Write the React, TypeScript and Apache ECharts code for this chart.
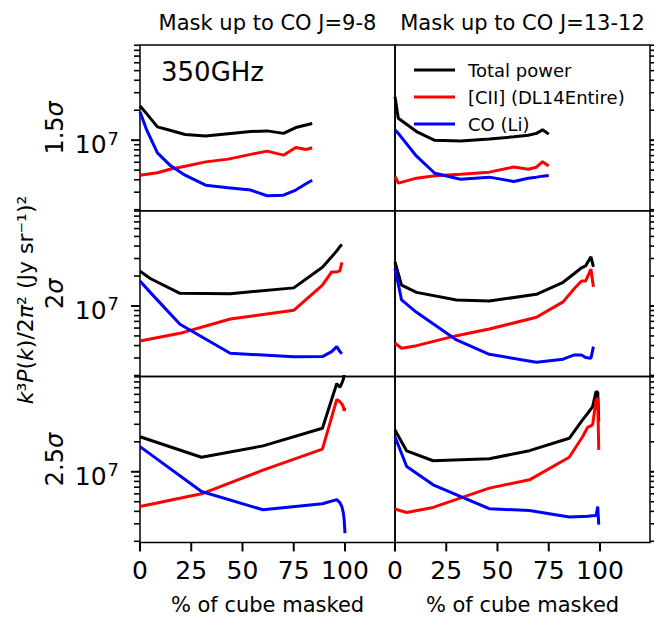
import React, { useEffect, useRef } from "react";
import * as echarts from "echarts";

const FONT = "'DejaVu Sans', 'Liberation Sans', sans-serif";

// ---------- data (x = % of cube masked, y = k^3 P(k) / 2pi^2 in (Jy/sr)^2) ----------
// Row 1.5 sigma, mask up to CO J=9-8
const x_15_98 = [0, 3.3, 8.5, 14.6, 22, 32, 43, 54, 62, 70, 76, 81, 84];
const tot_15_98 = [2.21e7, 1.84e7, 1.36e7, 1.26e7, 1.14e7, 1.10e7, 1.16e7, 1.22e7, 1.24e7, 1.17e7, 1.34e7, 1.42e7, 1.47e7];
const cii_15_98 = [4.45e6, 4.55e6, 4.7e6, 5.1e6, 5.48e6, 6.05e6, 6.45e6, 7.2e6, 7.76e6, 7.07e6, 8.45e6, 8.07e6, 8.38e6];
const co_15_98 = [1.93e7, 1.26e7, 7.46e6, 5.61e6, 4.45e6, 3.53e6, 3.32e6, 3.15e6, 2.76e6, 2.8e6, 3.15e6, 3.64e6, 3.96e6];

// Row 1.5 sigma, mask up to CO J=13-12
const x_15_1312 = [0, 1.6, 10.5, 19.4, 32, 46, 58, 65, 69, 72, 75];
const tot_15_1312 = [2.73e7, 1.66e7, 1.22e7, 9.96e6, 9.82e6, 1.03e7, 1.08e7, 1.12e7, 1.17e7, 1.27e7, 1.15e7];
const cii_15_1312 = [4.31e6, 3.7e6, 4.15e6, 4.38e6, 4.55e6, 4.77e6, 5.38e6, 5.1e6, 5.35e6, 6.08e6, 5.51e6];
const co_15_1312 = [1.27e7, 1.17e7, 6.9e6, 4.65e6, 4.05e6, 4.25e6, 3.84e6, 4.15e6, 4.25e6, 4.35e6, 4.41e6];

// Row 2 sigma, mask up to CO J=9-8
const x_20_98 = [0, 5, 19.5, 44, 75, 89, 93.5, 96, 97.5, 98.5];
const tot_20_98 = [2.24e7, 1.89e7, 1.34e7, 1.33e7, 1.52e7, 2.45e7, 3.12e7, 3.58e7, 3.95e7, 4.15e7];
const cii_20_98 = [4.45e6, 4.66e6, 5.31e6, 7.4e6, 9.04e6, 1.62e7, 2.2e7, 2.2e7, 2.25e7, 2.74e7];
const co_20_98 = [1.78e7, 1.37e7, 6.55e6, 3.35e6, 3.08e6, 3.1e6, 3.48e6, 3.9e6, 3.48e6, 3.3e6];

// Row 2 sigma, mask up to CO J=13-12
const x_20_1312 = [0, 3.2, 10.5, 30, 46, 69, 82, 87.5, 91, 93, 95.6, 96.8];
const tot_20_1312 = [2.77e7, 1.62e7, 1.37e7, 1.15e7, 1.12e7, 1.31e7, 1.73e7, 2.12e7, 2.42e7, 2.53e7, 3.12e7, 2.47e7];
const cii_20_1312 = [4.22e6, 3.76e6, 3.99e6, 5.03e6, 5.86e6, 7.69e6, 1.1e7, 1.5e7, 1.78e7, 1.78e7, 2.34e7, 1.56e7];
const co_20_1312 = [2.38e7, 1.15e7, 8.63e6, 4.55e6, 3.27e6, 2.72e6, 2.92e6, 3.22e6, 3.22e6, 3.03e6, 2.98e6, 3.9e6];

// Row 2.5 sigma, mask up to CO J=9-8
const x_25_98 = [0, 30, 60, 89, 96, 97.5, 98.5, 99.2, 99.6, 100];
const tot_25_98 = [2.25e7, 1.4e7, 1.82e7, 2.74e7, 7.7e7, 7.06e7, 7.8e7, 8.5e7, 9.5e7, 1.0e8];
const cii_25_98 = [4.48e6, 6.0e6, 1.04e7, 1.69e7, 5.35e7, 5.06e7, 4.8e7, 4.5e7, 4.1e7, 4.4e7];
const co_25_98 = [1.79e7, 6.33e6, 4.15e6, 4.77e6, 5.25e6, 4.9e6, 4.45e6, 3.85e6, 3.3e6, 2.42e6];

// Row 2.5 sigma, mask up to CO J=13-12
const x_25_1312 = [0, 5.7, 18.6, 46, 65.6, 85, 91.5, 94, 96.4, 98.1, 98.9, 99.4];
const tot_25_1312 = [2.63e7, 1.62e7, 1.29e7, 1.35e7, 1.63e7, 2.17e7, 3.32e7, 3.87e7, 4.51e7, 6.38e7, 6.3e7, 3.2e7];
const cii_25_1312 = [4.22e6, 3.9e6, 4.38e6, 6.85e6, 8.3e6, 1.4e7, 2.25e7, 2.8e7, 2.96e7, 5.26e7, 5.47e7, 1.66e7];
const co_25_1312 = [2.25e7, 1.13e7, 7.39e6, 4.25e6, 4.08e6, 3.51e6, 3.56e6, 3.58e6, 3.61e6, 3.63e6, 4.48e6, 2.94e6];

// ---------- axes / labels ----------
const X_MIN = 0;
const X_MAX = 124.4;
const X_TICKS = [0, 25, 50, 75, 100];
const Y_MIN = 1.95e6;
const Y_MAX = 9.05e7;
const Y_MAJOR = [1e7];
const Y_MINOR = [2e6, 3e6, 4e6, 5e6, 6e6, 7e6, 8e6, 9e6, 2e7, 3e7, 4e7, 5e7, 6e7, 7e7, 8e7, 9e7];
const ROW_LABELS = ["1.5{i|σ}", "2{i|σ}", "2.5{i|σ}"];
const COL_TITLES = ["Mask up to CO J=9-8", "Mask up to CO J=13-12"];
const X_LABEL = "% of cube masked";
const Y_LABEL = "{i|k}³{i|P}({i|k})/2{i|π}² (Jy sr⁻¹)²";
const BAND_LABEL = "350GHz";
const SERIES_NAMES = ["Total power", "[CII] (DL14Entire)", "CO (Li)"];
const COLORS = ["#000000", "#ff0000", "#0000ff"];

const PANELS = [
  { row: 0, col: 0, x: x_15_98, ys: [tot_15_98, cii_15_98, co_15_98] },
  { row: 0, col: 1, x: x_15_1312, ys: [tot_15_1312, cii_15_1312, co_15_1312] },
  { row: 1, col: 0, x: x_20_98, ys: [tot_20_98, cii_20_98, co_20_98] },
  { row: 1, col: 1, x: x_20_1312, ys: [tot_20_1312, cii_20_1312, co_20_1312] },
  { row: 2, col: 0, x: x_25_98, ys: [tot_25_98, cii_25_98, co_25_98] },
  { row: 2, col: 1, x: x_25_1312, ys: [tot_25_1312, cii_25_1312, co_25_1312] },
];

// layout
const GRID_LEFT = [140, 395];
const GRID_W = 255;
const GRID_TOP = [45, 210.8, 376.6];
const GRID_H = 165.8;
const MAJOR_LEN = 9;
const MINOR_LEN = 6;

const lg = Math.log10;

function textGraphics() {
  const graphic: any[] = [];
  COL_TITLES.forEach((t, c) => {
    graphic.push({
      type: "text",
      x: GRID_LEFT[c] + GRID_W / 2,
      y: 23,
      style: { text: t, font: `21px ${FONT}`, fill: "#000", align: "center", verticalAlign: "middle" },
    });
    graphic.push({
      type: "text",
      x: GRID_LEFT[c] + GRID_W / 2,
      y: 605,
      style: { text: X_LABEL, font: `21px ${FONT}`, fill: "#000", align: "center", verticalAlign: "middle" },
    });
  });
  ROW_LABELS.forEach((t, r) => {
    graphic.push({
      type: "text",
      x: 55,
      y: GRID_TOP[r] + GRID_H / 2,
      rotation: Math.PI / 2,
      style: {
        text: t,
        font: `24px ${FONT}`,
        fill: "#000",
        align: "center",
        verticalAlign: "middle",
        rich: { i: { fontStyle: "italic", fontSize: 24, fontFamily: FONT, fill: "#000" } },
      },
    });
  });
  graphic.push({
    type: "text",
    x: 25,
    y: 300,
    rotation: Math.PI / 2,
    style: {
      text: Y_LABEL,
      font: `22px ${FONT}`,
      fill: "#000",
      align: "center",
      verticalAlign: "middle",
      rich: { i: { fontStyle: "italic", fontSize: 22, fontFamily: FONT, fill: "#000" } },
    },
  });
  graphic.push({
    type: "text",
    x: 161,
    y: 72,
    style: { text: BAND_LABEL, font: `26px ${FONT}`, fill: "#000", align: "left", verticalAlign: "middle" },
  });
  return graphic;
}

function buildOption() {
  const grid = PANELS.map((p) => ({
    left: GRID_LEFT[p.col],
    top: GRID_TOP[p.row],
    width: GRID_W,
    height: GRID_H,
    show: true,
    borderColor: "#000",
    borderWidth: 1.5,
    backgroundColor: "transparent",
    containLabel: false,
  }));

  const xAxis = PANELS.map((p, i) => ({
    type: "value",
    gridIndex: i,
    min: X_MIN,
    max: X_MAX,
    interval: 25,
    axisLine: { show: false },
    splitLine: { show: false },
    axisTick: { show: false },
    axisLabel: {
      show: p.row === 2,
      fontSize: 25,
      fontFamily: FONT,
      color: "#000",
      margin: 16,
      showMaxLabel: false,
      formatter: (v: number) => (X_TICKS.includes(v) ? String(v) : ""),
    },
  }));

  const yAxis = PANELS.map((p, i) => ({
    type: "value",
    gridIndex: i,
    min: lg(Y_MIN),
    max: lg(Y_MAX),
    position: p.col === 0 ? "left" : "right",
    axisLine: { show: false },
    splitLine: { show: false },
    axisTick: { show: false },
    axisLabel: { show: false },
  }));

  const series: any[] = [];
  PANELS.forEach((p, i) => {
    p.ys.forEach((ys, k) => {
      series.push({
        type: "line",
        name: SERIES_NAMES[k],
        xAxisIndex: i,
        yAxisIndex: i,
        data: p.x.map((x, j) => [x, lg(ys[j])]),
        showSymbol: false,
        symbol: "none",
        color: COLORS[k],
        lineStyle: { color: COLORS[k], width: 3 },
        clip: true,
        silent: true,
        z: 2 + k,
      });
    });

    // y tick marks (major + minor), drawn from the axis scale
    const side = p.col === 0 ? -1 : 1;
    const edge = p.col === 0 ? X_MIN : X_MAX;
    const yTickData = [
      ...Y_MAJOR.map((v) => [edge, lg(v), MAJOR_LEN]),
      ...Y_MINOR.map((v) => [edge, lg(v), MINOR_LEN]),
    ];
    series.push({
      type: "custom",
      name: "yticks" + i,
      xAxisIndex: i,
      yAxisIndex: i,
      clip: false,
      silent: true,
      z: 20,
      encode: { x: 0, y: 1 },
      data: yTickData,
      renderItem: (params: any, api: any) => {
        const pt = api.coord([api.value(0), api.value(1)]);
        const len = api.value(2);
        return {
          type: "line",
          shape: { x1: pt[0], y1: pt[1], x2: pt[0] + side * len, y2: pt[1] },
          style: { stroke: "#000", lineWidth: len === MAJOR_LEN ? 2 : 1.6 },
        };
      },
    });

    if (p.row === 2) {
      series.push({
        type: "custom",
        name: "xticks" + i,
        xAxisIndex: i,
        yAxisIndex: i,
        clip: false,
        silent: true,
        z: 20,
        encode: { x: 0, y: 1 },
        data: X_TICKS.map((v) => [v, lg(Y_MIN)]),
        renderItem: (params: any, api: any) => {
          const pt = api.coord([api.value(0), api.value(1)]);
          return {
            type: "line",
            shape: { x1: pt[0], y1: pt[1], x2: pt[0], y2: pt[1] + MAJOR_LEN },
            style: { stroke: "#000", lineWidth: 2 },
          };
        },
      });
    }
  });

  return {
    animation: false,
    backgroundColor: "#ffffff",
    grid,
    xAxis,
    yAxis,
    series,
    legend: {
      show: true,
      orient: "vertical",
      left: 409,
      top: 56,
      icon: "rect",
      itemWidth: 41,
      itemHeight: 3,
      itemGap: 9,
      selectedMode: false,
      data: SERIES_NAMES,
      textStyle: { fontSize: 18, fontFamily: FONT, color: "#000", padding: [0, 0, 0, 8] },
    },
    graphic: textGraphics(),
  };
}

// y tick labels (10^7) positioned through the chart's own axis scales
function yLabelGraphics(chart: echarts.ECharts) {
  const out: any[] = [];
  PANELS.forEach((p, i) => {
    if (p.col !== 0) return;
    const finder = { xAxisIndex: i, yAxisIndex: i };
    Y_MAJOR.forEach((v) => {
      const pt = chart.convertToPixel(finder, [X_MIN, lg(v)]);
      out.push({
        type: "text",
        silent: true,
        x: pt[0] - 21,
        y: pt[1] + 2,
        style: {
          text: `{a|10}{b|${Math.round(lg(v))}}`,
          align: "right",
          verticalAlign: "middle",
          fill: "#000",
          rich: {
            a: { fontSize: 25, fontFamily: FONT, fill: "#000", verticalAlign: "bottom", lineHeight: 30 },
            b: { fontSize: 18, fontFamily: FONT, fill: "#000", verticalAlign: "bottom", lineHeight: 30, padding: [0, 0, 10, 1] },
          },
        },
      });
    });
  });
  return out;
}

export default function App() {
  const ref = useRef<HTMLDivElement>(null);
  useEffect(() => {
    document.body.style.margin = "0";
    if (!ref.current) return;
    const chart = echarts.init(ref.current, undefined, { renderer: "svg" });
    chart.setOption(buildOption() as any);
    chart.setOption({ graphic: [...textGraphics(), ...yLabelGraphics(chart)] } as any);
    return () => chart.dispose();
  }, []);
  return <div ref={ref} style={{ width: 654, height: 617 }} />;
}
